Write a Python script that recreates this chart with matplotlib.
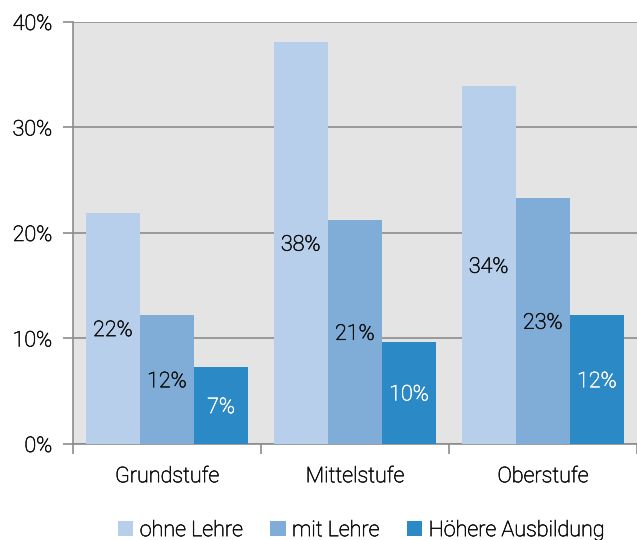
import numpy as np
import matplotlib.pyplot as plt
import matplotlib.patheffects as pe
from matplotlib.ticker import PercentFormatter

plt.rcParams['font.family'] = ['Roboto', 'DejaVu Sans']

# Daten
categories = ['Grundstufe', 'Mittelstufe', 'Oberstufe']
series_names = ['ohne Lehre', 'mit Lehre', 'Höhere Ausbildung']
ohne_lehre = [21.9, 38.1, 33.9]
mit_lehre = [12.2, 21.2, 23.3]
hoehere = [7.3, 9.7, 12.2]
labels = [['22%', '38%', '34%'], ['12%', '21%', '23%'], ['7%', '10%', '12%']]

colors = ['#b8cfeb', '#80acd8', '#2b8ac6']
text_colors = ['#111111', '#111111', 'white']
grid_col = '#8c8c8c'
fs = 15.5
fw = 'light'


def thicken(color):
    # Light-Schnitt etwas kräftiger, wie in der Vorlage
    return [pe.withStroke(linewidth=0.45, foreground=color)]


fig = plt.figure(figsize=(6.37, 5.4), dpi=100)
ax = fig.add_axes([0.1146, 0.1778, 0.885, 0.7815])
ax.set_facecolor('#e4e4e4')

x = np.arange(len(categories))
w = 0.288
all_series = [ohne_lehre, mit_lehre, hoehere]
for i, vals in enumerate(all_series):
    pos = x + (i - 1) * w
    bars = ax.bar(pos, vals, width=w, color=colors[i], label=series_names[i], zorder=3)
    for b, v, lab in zip(bars, vals, labels[i]):
        ax.text(b.get_x() + b.get_width() / 2, v / 2 - 0.2, lab, ha='center', va='center',
                fontsize=fs, color=text_colors[i], fontweight=fw, zorder=4,
                path_effects=thicken(text_colors[i]))

ax.set_xlim(-0.5, 2.5)
ax.set_ylim(0, 40)
ax.set_yticks([0, 10, 20, 30, 40])
ax.yaxis.set_major_formatter(PercentFormatter(decimals=0))
ax.yaxis.grid(True, color=grid_col, linewidth=1.2, zorder=1)
ax.set_axisbelow(True)

ax.set_xticks(x)
ax.set_xticklabels(categories)
ax.set_xticks([-0.5, 0.5, 1.5, 2.5], minor=True)
ax.tick_params(axis='x', which='major', length=0, pad=16)
ax.tick_params(axis='x', which='minor', length=7, color=grid_col, width=1.2)
ax.tick_params(axis='y', length=7, color=grid_col, width=1.2, pad=8)
for lab in ax.get_xticklabels() + ax.get_yticklabels():
    lab.set_fontsize(fs)
    lab.set_fontweight(fw)
    lab.set_color('#111111')
    lab.set_path_effects(thicken('#111111'))

for s in ['top', 'right']:
    ax.spines[s].set_visible(False)
for s in ['left', 'bottom']:
    ax.spines[s].set_color(grid_col)
    ax.spines[s].set_linewidth(1.2)

leg = fig.legend(loc='lower center', ncol=3, frameon=False, bbox_to_anchor=(0.567, -0.038),
                 handlelength=0.7, handleheight=0.7, handletextpad=0.3, columnspacing=1.3,
                 prop={'size': fs, 'weight': fw})
for t in leg.get_texts():
    t.set_color('#111111')
    t.set_path_effects(thicken('#111111'))

plt.savefig('out.png', dpi=100)
